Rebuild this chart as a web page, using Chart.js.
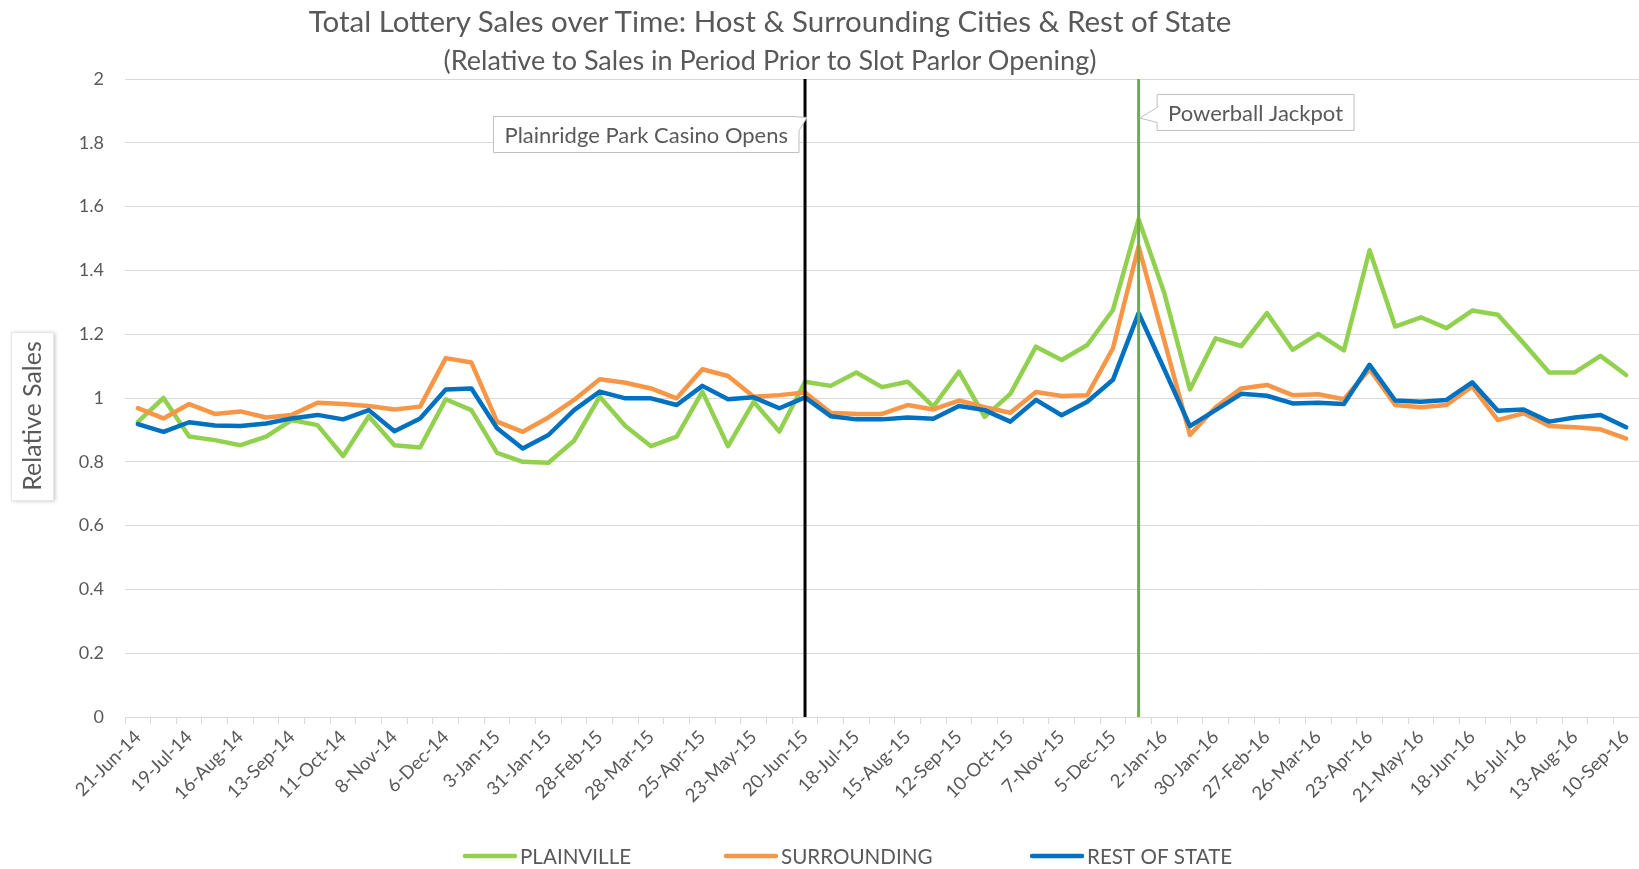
<!DOCTYPE html>
<html>
<head>
<meta charset="utf-8">
<title>Total Lottery Sales over Time</title>
<script src="https://cdn.jsdelivr.net/npm/chart.js@4.4.1/dist/chart.umd.min.js"></script>
<style>
  html, body { margin: 0; padding: 0; background: #fff; }
  #wrap { position: relative; width: 1639px; height: 869px; }
  .ttl { position: absolute; left: 0; width: 1540px; text-align: center; font-family: Lato, sans-serif; color: #595959; white-space: nowrap; }
</style>
</head>
<body>
<div id="wrap">
  <canvas id="chart" width="1639" height="869"></canvas>
  <div class="ttl" style="top:3px;font-size:29.5px">Total Lottery Sales over Time: Host &amp; Surrounding Cities &amp; Rest of State</div>
  <div class="ttl" style="top:43px;font-size:27px">(Relative to Sales in Period Prior to Slot Parlor Opening)</div>
</div>
<script>
// tick labels shown on the axis (every 4 weeks); data comes every 2 weeks
const tickLabels = ['21-Jun-14', '19-Jul-14', '16-Aug-14', '13-Sep-14', '11-Oct-14', '8-Nov-14',
  '6-Dec-14', '3-Jan-15', '31-Jan-15', '28-Feb-15', '28-Mar-15', '25-Apr-15', '23-May-15',
  '20-Jun-15', '18-Jul-15', '15-Aug-15', '12-Sep-15', '10-Oct-15', '7-Nov-15', '5-Dec-15',
  '2-Jan-16', '30-Jan-16', '27-Feb-16', '26-Mar-16', '23-Apr-16', '21-May-16', '18-Jun-16',
  '16-Jul-16', '13-Aug-16', '10-Sep-16'];

const plainville = [0.925, 1.0, 0.879, 0.868, 0.852, 0.879, 0.931, 0.915, 0.818, 0.943, 0.852, 0.845, 0.996,
  0.962, 0.828, 0.800, 0.797, 0.866, 1.004, 0.912, 0.849, 0.879, 1.020, 0.849, 0.988, 0.895,
  1.051, 1.038, 1.080, 1.034, 1.051, 0.973, 1.083, 0.941, 1.013, 1.161, 1.119, 1.166, 1.276, 1.56,
  1.329, 1.027, 1.187, 1.163, 1.266, 1.151, 1.201, 1.149, 1.463, 1.224, 1.253, 1.219, 1.274, 1.261,
  1.172, 1.080, 1.080, 1.132, 1.072];

const surrounding = [0.968, 0.936, 0.981, 0.950, 0.958, 0.939, 0.947, 0.985, 0.981, 0.975, 0.964, 0.973, 1.125,
  1.111, 0.926, 0.894, 0.939, 0.994, 1.059, 1.048, 1.030, 0.999, 1.090, 1.069, 1.004, 1.009,
  1.017, 0.954, 0.950, 0.950, 0.978, 0.964, 0.992, 0.971, 0.954, 1.019, 1.006, 1.009, 1.156, 1.475,
  1.18, 0.884, 0.971, 1.030, 1.041, 1.009, 1.012, 0.996, 1.090, 0.978, 0.971, 0.978, 1.036, 0.931,
  0.952, 0.912, 0.908, 0.902, 0.873];

const restOfState = [0.918, 0.894, 0.924, 0.914, 0.912, 0.920, 0.936, 0.947, 0.933, 0.962, 0.896, 0.936, 1.027,
  1.030, 0.905, 0.842, 0.884, 0.962, 1.020, 0.999, 0.999, 0.978, 1.038, 0.996, 1.002, 0.968,
  1.002, 0.943, 0.933, 0.933, 0.939, 0.935, 0.975, 0.962, 0.926, 0.994, 0.946, 0.988, 1.057, 1.266,
  1.09, 0.912, 0.962, 1.013, 1.007, 0.983, 0.985, 0.981, 1.104, 0.992, 0.988, 0.994, 1.049, 0.960,
  0.964, 0.926, 0.939, 0.947, 0.908];

// event markers (category index of the period)
const eventIndex = [26, 39];
const eventLabels = ['Plainridge Park Casino Opens', 'Powerball Jackpot'];
const eventColors = ['#000000', '#70ad47'];

// categories: every labelled period followed by an unlabelled one
const categories = [];
tickLabels.forEach((lbl, i) => {
  categories.push(lbl);
  if (i < tickLabels.length - 1) categories.push('');
});

const FONT = 'Lato, "Open Sans", sans-serif';
const GREY = '#595959';

// vertical event lines + callout boxes
const eventPlugin = {
  id: 'events',
  afterDatasetsDraw(chart) {
    const { ctx, chartArea, scales } = chart;
    ctx.save();
    eventIndex.forEach((idx, k) => {
      const x = scales.x.getPixelForValue(idx);
      ctx.strokeStyle = eventColors[k];
      ctx.lineWidth = 3;
      ctx.beginPath();
      ctx.moveTo(x, chartArea.top);
      ctx.lineTo(x, chartArea.bottom);
      ctx.stroke();
    });
    ctx.restore();
  },
  afterDraw(chart) {
    const { ctx, scales } = chart;
    ctx.save();
    ctx.font = '22px ' + FONT;
    ctx.textBaseline = 'middle';
    eventIndex.forEach((idx, k) => {
      const x = scales.x.getPixelForValue(idx);
      const tw = ctx.measureText(eventLabels[k]).width;
      const w = tw + 22, h = 36;
      ctx.beginPath();
      let left, top;
      if (k === 0) {
        // box to the left of the line, tail at top-right corner
        left = x - 6 - w; top = 116.5;
        ctx.moveTo(left, top);
        ctx.lineTo(left + w - 6, top);
        ctx.lineTo(x + 2, top + 1);
        ctx.lineTo(left + w, top + 14);
        ctx.lineTo(left + w, top + h);
        ctx.lineTo(left, top + h);
        ctx.closePath();
      } else {
        // box to the right of the line, tail on the left edge
        left = x + 18.5; top = 94.5;
        ctx.moveTo(left, top);
        ctx.lineTo(left + w, top);
        ctx.lineTo(left + w, top + h);
        ctx.lineTo(left, top + h);
        ctx.lineTo(left, top + 28);
        ctx.lineTo(x + 1, top + 23.5);
        ctx.lineTo(left, top + 13);
        ctx.closePath();
      }
      ctx.fillStyle = '#ffffff';
      ctx.fill();
      ctx.strokeStyle = '#bfbfbf';
      ctx.lineWidth = 1;
      ctx.stroke();
      ctx.fillStyle = GREY;
      ctx.textAlign = 'left';
      ctx.fillText(eventLabels[k], left + 11, top + h / 2 + 1);
    });
    ctx.restore();
  }
};

// y axis title in a shadowed box, and bottom legend
const decorPlugin = {
  id: 'decor',
  afterDraw(chart) {
    const { ctx } = chart;
    ctx.save();
    ctx.shadowColor = 'rgba(0,0,0,0.25)';
    ctx.shadowBlur = 4;
    ctx.shadowOffsetX = 1;
    ctx.shadowOffsetY = 1;
    ctx.fillStyle = '#ffffff';
    ctx.fillRect(11.5, 332, 42, 168);
    ctx.shadowColor = 'transparent';
    ctx.strokeStyle = '#e6e6e6';
    ctx.lineWidth = 1;
    ctx.strokeRect(11.5, 332.5, 42, 168);
    ctx.translate(33, 416);
    ctx.rotate(-Math.PI / 2);
    ctx.font = '25px ' + FONT;
    ctx.fillStyle = GREY;
    ctx.textAlign = 'center';
    ctx.textBaseline = 'middle';
    ctx.fillText('Relative Sales', 0, 0);
    ctx.restore();

    // legend
    const legendX = [463, 724, 1030];
    const y = 856;
    ctx.save();
    ctx.font = '20.6px ' + FONT;
    ctx.textBaseline = 'middle';
    ctx.lineCap = 'round';
    chart.data.datasets.forEach((ds, i) => {
      ctx.strokeStyle = ds.borderColor;
      ctx.lineWidth = 4.5;
      ctx.beginPath();
      ctx.moveTo(legendX[i] + 2, y);
      ctx.lineTo(legendX[i] + 52, y);
      ctx.stroke();
      ctx.fillStyle = GREY;
      ctx.fillText(ds.label, legendX[i] + 57, y + 1);
    });
    ctx.restore();
  }
};

const lineStyle = { borderWidth: 4.5, pointRadius: 0, tension: 0, borderCapStyle: 'round', borderJoinStyle: 'round', fill: false };

new Chart(document.getElementById('chart'), {
  type: 'line',
  data: {
    labels: categories,
    datasets: [
      Object.assign({ label: 'PLAINVILLE', data: plainville, borderColor: '#92d050', order: 2 }, lineStyle),
      Object.assign({ label: 'SURROUNDING', data: surrounding, borderColor: '#f79646', order: 1 }, lineStyle),
      Object.assign({ label: 'REST OF STATE', data: restOfState, borderColor: '#0070c0', order: 0 }, lineStyle)
    ]
  },
  options: {
    responsive: false,
    devicePixelRatio: 1,
    animation: false,
    layout: { padding: { top: 79, right: 0, bottom: 0, left: 0 } },
    plugins: {
      legend: { display: false },
      title: { display: false },
      tooltip: { enabled: false }
    },
    scales: {
      x: {
        offset: true,
        grid: { offset: true, drawOnChartArea: false, drawTicks: true, tickLength: 7, color: '#d9d9d9' },
        border: { display: true, color: '#d9d9d9' },
        ticks: {
          autoSkip: false, minRotation: 45, maxRotation: 45, padding: 2,
          color: GREY, font: { family: FONT, size: 18.5 },
          callback: function (v, i) { return categories[i]; }
        },
        afterFit: function (s) { s.height = 152; s.paddingLeft = 0; s.paddingRight = 0; }
      },
      y: {
        min: 0, max: 2,
        grid: { color: '#d9d9d9', drawTicks: false },
        border: { display: false },
        ticks: {
          stepSize: 0.2, padding: 21, color: GREY, font: { family: FONT, size: 18 },
          callback: function (v) { return String(Math.round(v * 10) / 10); }
        },
        afterFit: function (s) { s.width = 125; }
      }
    }
  },
  plugins: [eventPlugin, decorPlugin]
});
</script>
</body>
</html>
